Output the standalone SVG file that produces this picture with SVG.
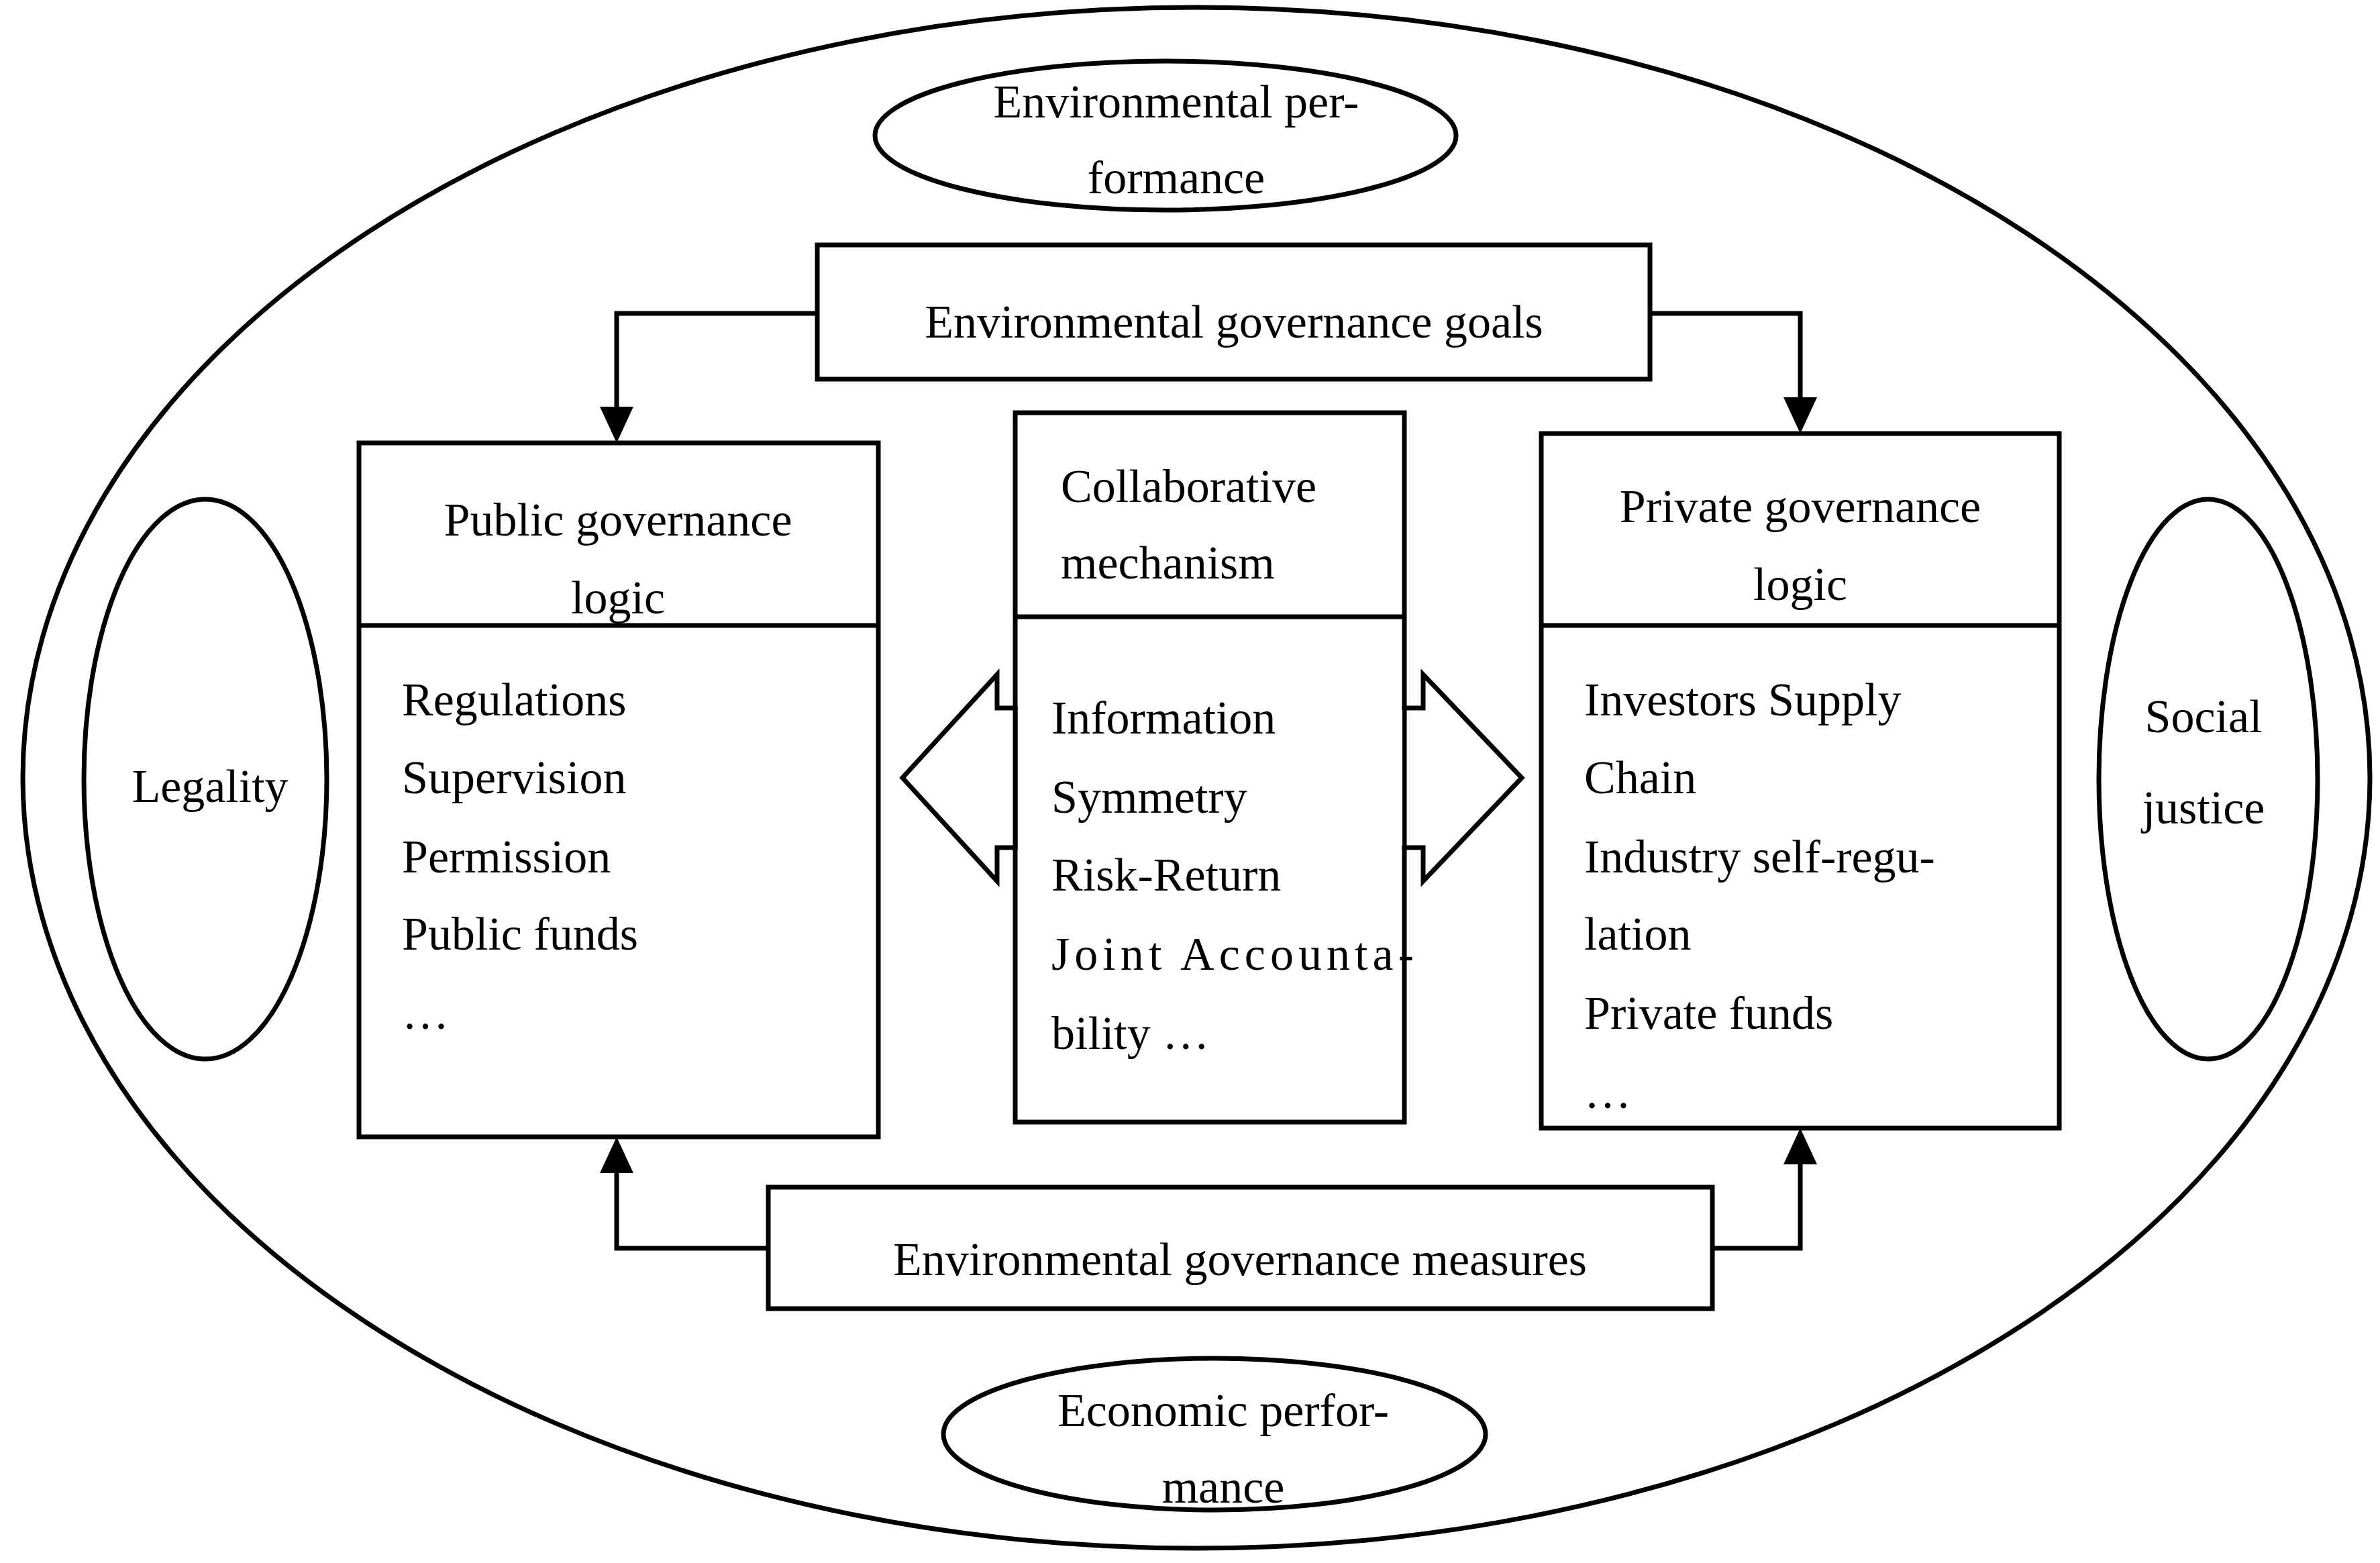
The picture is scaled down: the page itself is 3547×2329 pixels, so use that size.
<svg xmlns="http://www.w3.org/2000/svg" width="3547" height="2329" viewBox="0 0 3547 2329">
<style>
.s{fill:none;stroke:#000;stroke-width:7}
.b{fill:#fff;stroke:#000;stroke-width:7}
text{font-family:"Liberation Serif","DejaVu Serif",serif;font-size:70px;fill:#000}
.c{text-anchor:middle}
</style>
<defs><marker id="ah" viewBox="0 0 10 10" refX="10" refY="5" markerWidth="7" markerHeight="7" orient="auto" markerUnits="userSpaceOnUse" style="overflow:visible"><path d="M0,0 L10,5 L0,10 z" transform="scale(5)"/></marker></defs>
<rect width="3547" height="2329" fill="#fff"/>
<g id="outer"><ellipse class="s" cx="1783" cy="1159" rx="1749" ry="1148"/></g>
<g id="envperf"><ellipse class="s" cx="1737" cy="202" rx="433" ry="111"/><text class="c" x="1753" y="175">Environmental per-</text><text class="c" x="1753" y="288">formance</text></g>
<g id="econperf"><ellipse class="s" cx="1810" cy="2137" rx="404" ry="113"/><text class="c" x="1823" y="2125">Economic perfor-</text><text class="c" x="1823" y="2239">mance</text></g>
<g id="legality"><ellipse class="s" cx="306" cy="1161" rx="181" ry="417"/><text class="c" x="313" y="1195">Legality</text></g>
<g id="justice"><ellipse class="s" cx="3291" cy="1161" rx="163" ry="417"/><text class="c" x="3284" y="1091">Social</text><text class="c" x="3284" y="1227">justice</text></g>
<g id="connectors">
<path class="s" d="M1218,467 H919 V614" />
<path d="M894,606 L944,606 L919,660 z"/>
<path class="s" d="M2459,467 H2683 V600"/>
<path d="M2658,592 L2708,592 L2683,646 z"/>
<path class="s" d="M1145,1860 H919 V1740"/>
<path d="M894,1748 L944,1748 L919,1694 z"/>
<path class="s" d="M2552,1860 H2683 V1727"/>
<path d="M2658,1735 L2708,1735 L2683,1681 z"/>
</g>
<g id="goals"><rect class="b" x="1218" y="365" width="1241" height="200"/><text class="c" x="1839" y="503">Environmental governance goals</text></g>
<g id="measures"><rect class="b" x="1145" y="1769" width="1407" height="181"/><text class="c" x="1848" y="1900">Environmental governance measures</text></g>
<g id="public"><rect class="b" x="535" y="660" width="774" height="1034"/><line class="s" x1="535" y1="932" x2="1309" y2="932"/>
<text class="c" x="921" y="798">Public governance</text><text class="c" x="921" y="914">logic</text>
<text x="599" y="1066">Regulations</text><text x="599" y="1182">Supervision</text><text x="599" y="1300">Permission</text><text x="599" y="1415">Public funds</text><text x="599" y="1533">…</text></g>
<g id="collab"><rect class="b" x="1513" y="615" width="580" height="1057"/><line class="s" x1="1513" y1="919" x2="2093" y2="919"/>
<path class="b" d="M1513,1055 H1486 V1005 L1345,1159 L1486,1313 V1263 H1513 Z" stroke-linejoin="miter"/>
<path class="b" d="M2093,1055 H2121 V1005 L2268,1159 L2121,1313 V1263 H2093 Z"/>
<rect x="1517" y="1058" width="8" height="202" fill="#fff"/><rect x="2082" y="1058" width="8" height="202" fill="#fff"/>
<text x="1581" y="748">Collaborative</text><text x="1581" y="862">mechanism</text>
<text x="1567" y="1093">Information</text><text x="1567" y="1211">Symmetry</text><text x="1567" y="1327">Risk-Return</text><text x="1567" y="1445" textLength="540">Joint  Accounta-</text><text x="1567" y="1563">bility …</text></g>
<g id="private"><rect class="b" x="2297" y="646" width="772" height="1035"/><line class="s" x1="2297" y1="932" x2="3069" y2="932"/>
<text class="c" x="2683" y="778">Private governance</text><text class="c" x="2683" y="894">logic</text>
<text x="2361" y="1066">Investors Supply</text><text x="2361" y="1182">Chain</text><text x="2361" y="1300">Industry self-regu-</text><text x="2361" y="1415">lation</text><text x="2361" y="1533">Private funds</text><text x="2361" y="1651">…</text></g>
</svg>
